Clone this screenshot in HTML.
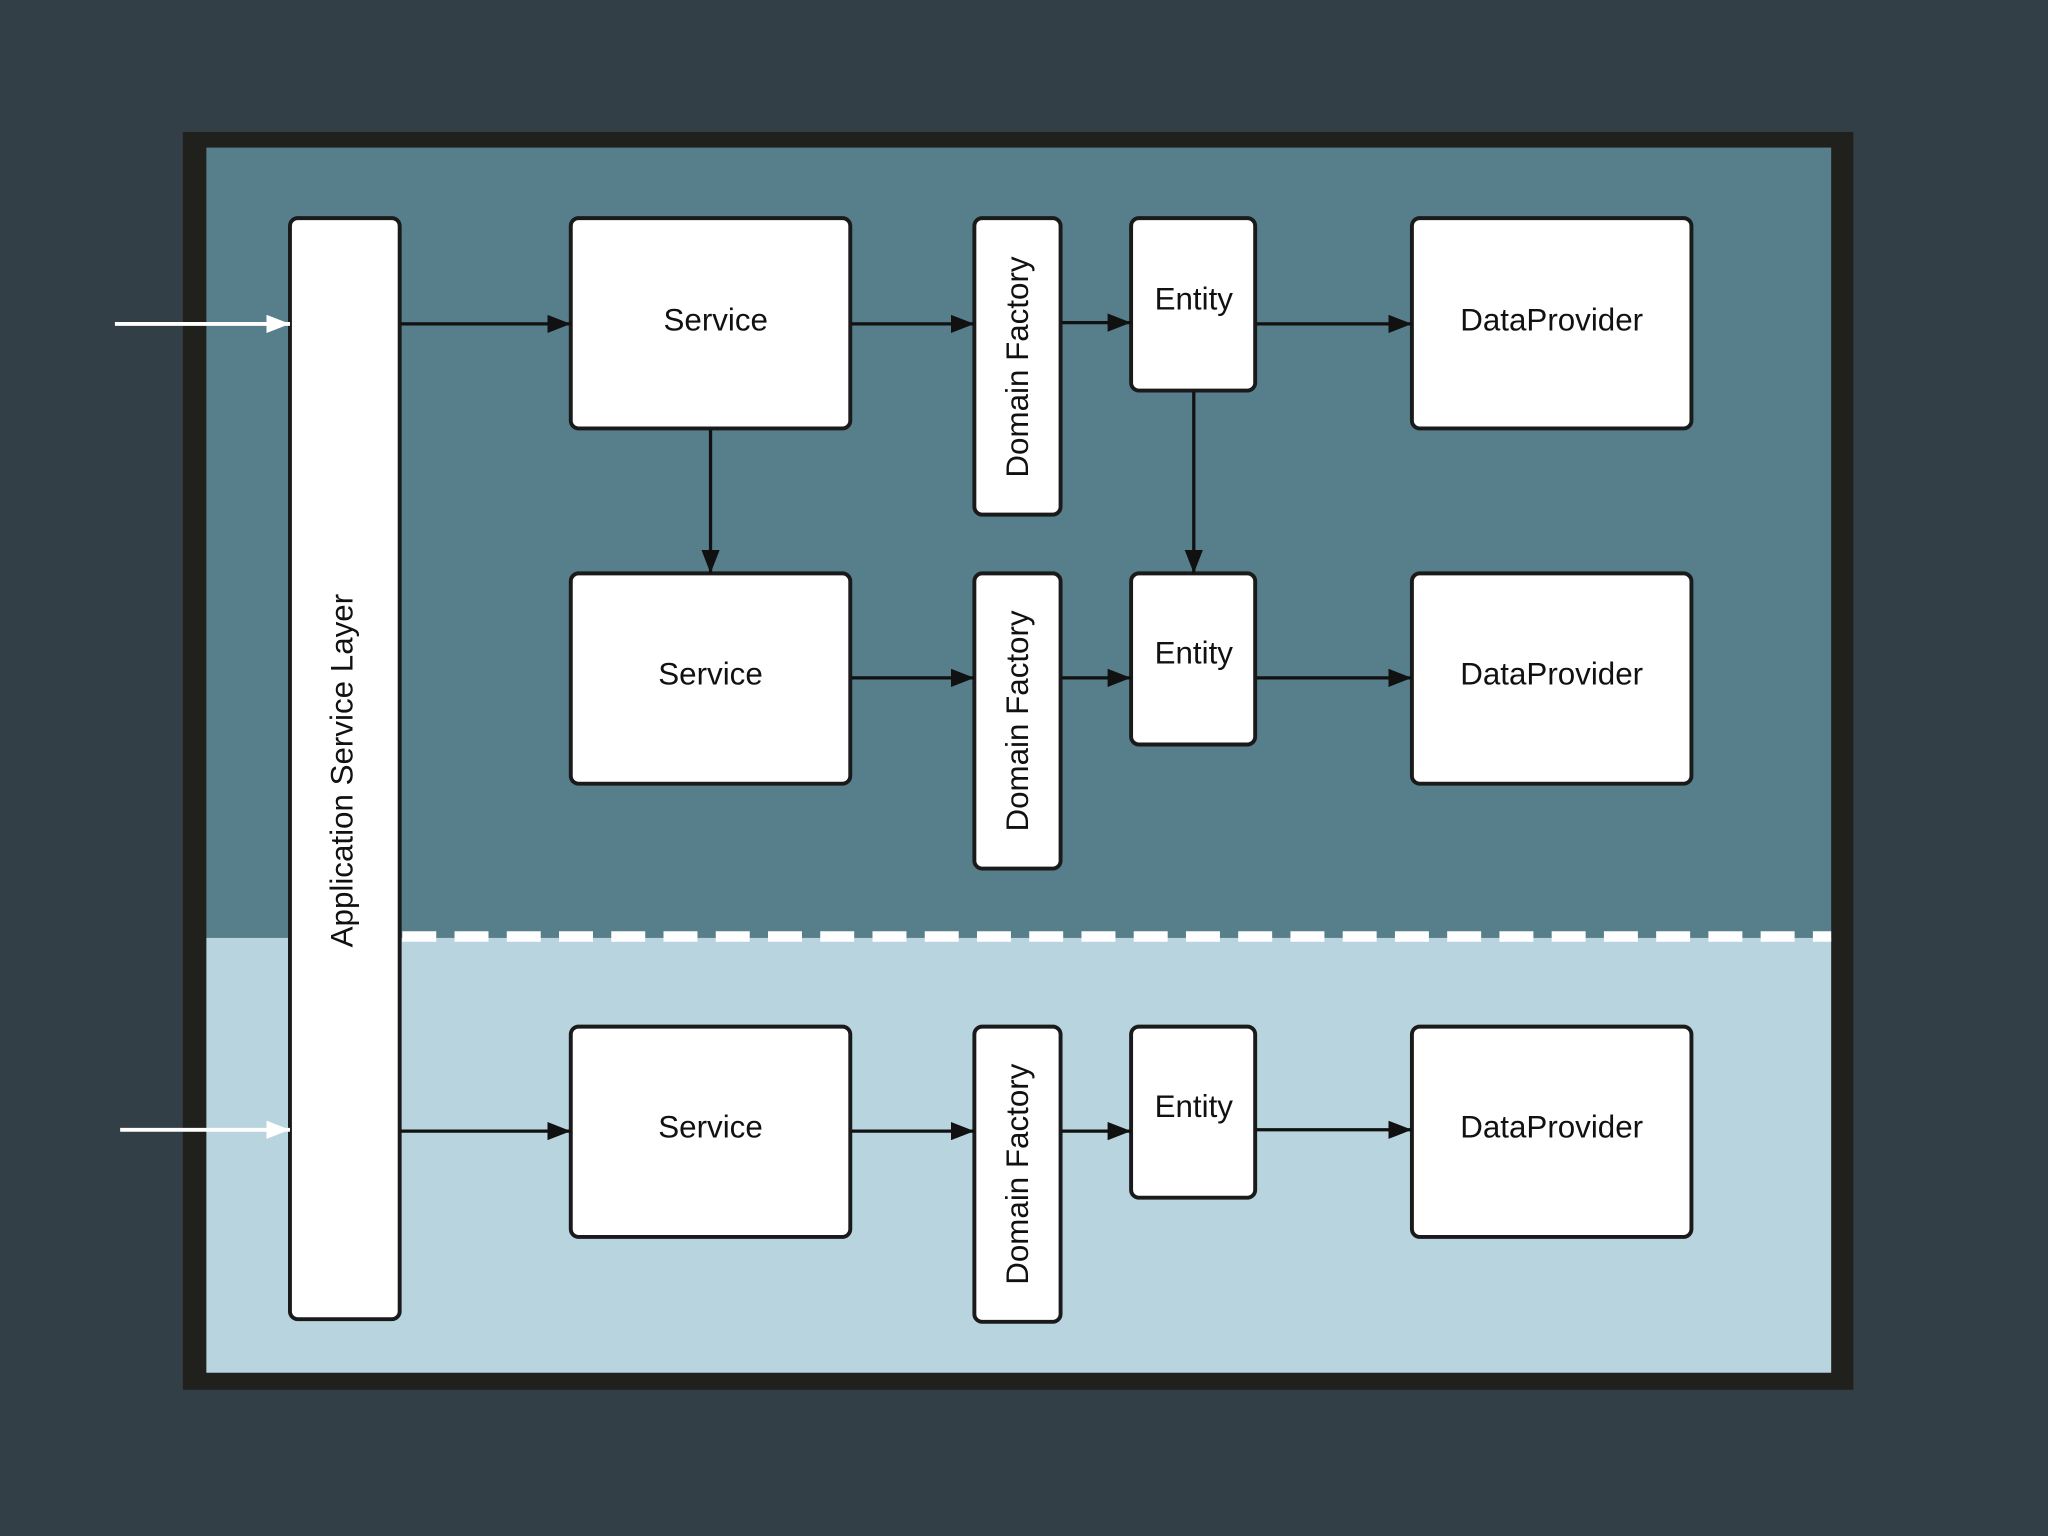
<!DOCTYPE html>
<html><head><meta charset="utf-8"><style>
html,body{margin:0;padding:0;width:2048px;height:1536px;overflow:hidden;background:#333f47;}
svg{display:block}
text{font-family:"Liberation Sans",sans-serif;font-size:24px;fill:#111;}
</style></head><body>
<svg width="2048" height="1536" viewBox="0 0 1568 1176" xmlns="http://www.w3.org/2000/svg">
<defs>
<marker id="a" viewBox="0 0 18 14" refX="18" refY="7" markerWidth="18" markerHeight="14" markerUnits="userSpaceOnUse" orient="auto"><path d="M0,0L18,7L0,14z" fill="#111"/></marker>
<marker id="b" viewBox="0 0 18 14" refX="18" refY="7" markerWidth="18" markerHeight="14" markerUnits="userSpaceOnUse" orient="auto"><path d="M0,0L18,7L0,14z" fill="#fff"/></marker>
</defs>
<rect x="0" y="0" width="1568" height="1176" fill="#333f47"/>
<rect x="140" y="101" width="1279" height="963" fill="#20201c"/>
<rect x="158" y="113" width="1244" height="605" fill="#577f8b"/>
<rect x="158" y="718" width="1244" height="333" fill="#b8d5df"/>
<line x1="308" y1="717" x2="1402" y2="717" stroke="#fff" stroke-width="8" stroke-dasharray="26,14"/>
<g fill="#fff" stroke="#1a1a1a" stroke-width="3">
<rect x="222" y="167" width="84" height="843" rx="6"/>
<rect x="437" y="167" width="214" height="161" rx="6"/>
<rect x="746" y="167" width="66" height="227" rx="6"/>
<rect x="866" y="167" width="95" height="132" rx="6"/>
<rect x="1081" y="167" width="214" height="161" rx="6"/>
<rect x="437" y="439" width="214" height="161" rx="6"/>
<rect x="746" y="439" width="66" height="226" rx="6"/>
<rect x="866" y="439" width="95" height="131" rx="6"/>
<rect x="1081" y="439" width="214" height="161" rx="6"/>
<rect x="437" y="786" width="214" height="161" rx="6"/>
<rect x="746" y="786" width="66" height="226" rx="6"/>
<rect x="866" y="786" width="95" height="131" rx="6"/>
<rect x="1081" y="786" width="214" height="161" rx="6"/>
</g>
<g stroke="#fff" stroke-width="3" marker-end="url(#b)">
<line x1="88" y1="248" x2="222" y2="248"/>
<line x1="92" y1="865" x2="222" y2="865"/>
</g>
<g stroke="#111" stroke-width="2.5" marker-end="url(#a)">
<line x1="307" y1="248" x2="437" y2="248"/>
<line x1="652" y1="248" x2="746" y2="248"/>
<line x1="813" y1="247" x2="866" y2="247"/>
<line x1="962" y1="248" x2="1081" y2="248"/>
<line x1="544" y1="329" x2="544" y2="439"/>
<line x1="914" y1="300" x2="914" y2="439"/>
<line x1="652" y1="519" x2="746" y2="519"/>
<line x1="813" y1="519" x2="866" y2="519"/>
<line x1="962" y1="519" x2="1081" y2="519"/>
<line x1="307" y1="866" x2="437" y2="866"/>
<line x1="652" y1="866" x2="746" y2="866"/>
<line x1="813" y1="866" x2="866" y2="866"/>
<line x1="962" y1="865" x2="1081" y2="865"/>
</g>
<g text-anchor="middle" dominant-baseline="central">
<text x="0" y="0" transform="translate(262,590) rotate(-90)">Application Service Layer</text>
<text x="548" y="245">Service</text>
<text x="0" y="0" transform="translate(779,281) rotate(-90)">Domain Factory</text>
<text x="914" y="229">Entity</text>
<text x="1188" y="245">DataProvider</text>
<text x="544" y="516">Service</text>
<text x="0" y="0" transform="translate(779,552) rotate(-90)">Domain Factory</text>
<text x="914" y="500">Entity</text>
<text x="1188" y="516">DataProvider</text>
<text x="544" y="863">Service</text>
<text x="0" y="0" transform="translate(779,899) rotate(-90)">Domain Factory</text>
<text x="914" y="847">Entity</text>
<text x="1188" y="863">DataProvider</text>
</g>
</svg>
</body></html>
